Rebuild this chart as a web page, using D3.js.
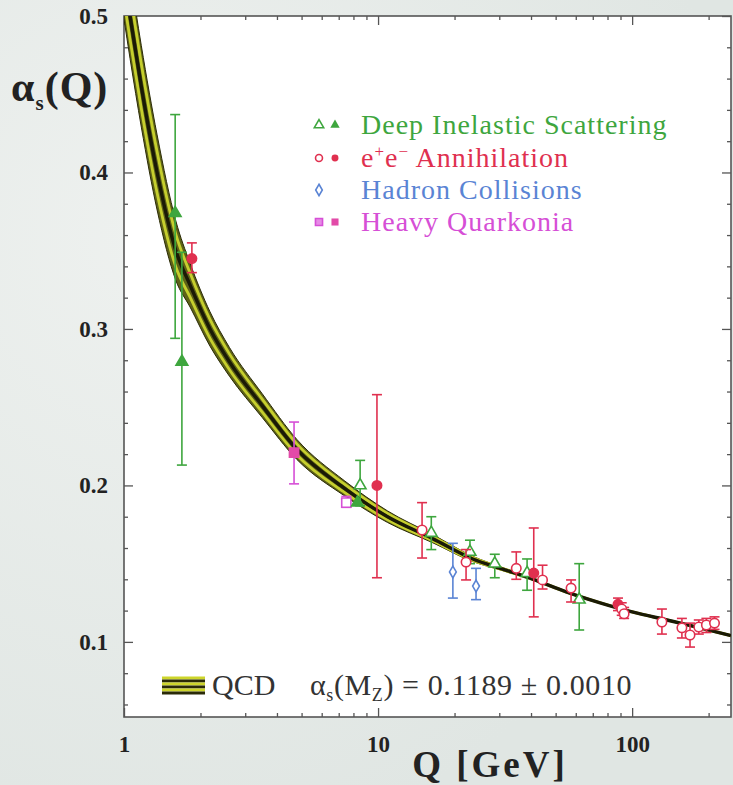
<!DOCTYPE html>
<html>
<head>
<meta charset="utf-8">
<script src="https://cdnjs.cloudflare.com/ajax/libs/d3/7.8.5/d3.min.js"></script>
<style>
    body { margin: 0; background: #e4e9e7; }
    svg text { font-family: "Liberation Serif", "Times New Roman", Times, Tinos, "DejaVu Serif", "Noto Serif", serif; }
</style>
</head>
<body>
<svg id="alphaRunning"></svg>
<script>
// QCD band: centre and half width (alpha units)
var qcdQ     = [1.0, 1.056, 1.17, 1.35, 1.6, 1.82, 2.18, 2.6, 3.5, 4.79, 7.4, 10.9, 16.4, 23.6, 30.3, 40.8, 55, 74.8, 101, 137, 185, 245];
var qcdAlpha = [0.525, 0.500, 0.455, 0.400, 0.350, 0.328, 0.300, 0.279, 0.251, 0.223, 0.198, 0.180, 0.166, 0.153, 0.147, 0.140, 0.132, 0.125, 0.119, 0.114, 0.109, 0.104];
var qcdHalf  = [0.027, 0.027, 0.026, 0.024, 0.019, 0.014, 0.011, 0.0092, 0.0076, 0.0064, 0.0048, 0.0037, 0.0026, 0.0017, 0.001, 0.0004, 0, 0, 0, 0, 0, 0];

// Deep Inelastic Scattering
var disQ      = [1.59, 1.69, 8.5, 8.3, 16.2, 23.0, 28.8, 38.6, 61.9];
var disAlpha  = [0.374, 0.279, 0.200, 0.189, 0.1696, 0.1575, 0.150, 0.144, 0.127];
var disLo     = [0.294, 0.213, 0.187, 0.189, 0.159, 0.150, 0.141, 0.133, 0.1076];
var disHi     = [0.437, 0.349, 0.216, 0.189, 0.180, 0.165, 0.156, 0.153, 0.150];
var disFilled = [true, true, false, true, false, false, false, false, false];

// e+e- Annihilation
var eeQ      = [1.85, 9.9, 14.9, 22.2, 35, 41, 44.4, 57.5, 88, 91, 93, 131, 157, 169, 183, 196, 211];
var eeAlpha  = [0.345, 0.200, 0.1715, 0.151, 0.147, 0.144, 0.1396, 0.1344, 0.124, 0.121, 0.118, 0.1127, 0.109, 0.1044, 0.1095, 0.1108, 0.112];
var eeLo     = [0.336, 0.141, 0.1536, 0.1396, 0.140, 0.116, 0.1338, 0.1255, 0.120, 0.117, 0.115, 0.105, 0.1025, 0.0967, 0.105, 0.106, 0.108];
var eeHi     = [0.355, 0.258, 0.189, 0.159, 0.1575, 0.1728, 0.149, 0.1396, 0.128, 0.125, 0.122, 0.121, 0.115, 0.112, 0.114, 0.115, 0.116];
var eeFilled = [true, true, false, false, false, true, false, false, true, false, false, false, false, false, false, false, false];

// Hadron Collisions
var hadQ     = [19.7, 24.3];
var hadAlpha = [0.1447, 0.1357];
var hadLo    = [0.128, 0.127];
var hadHi    = [0.163, 0.147];

// Heavy Quarkonia
var hqQ      = [4.67, 7.5];
var hqAlpha  = [0.221, 0.189];
var hqLo     = [0.201, 0.186];
var hqHi     = [0.2405, 0.193];
var hqFilled = [true, false];

var xMajor = [1, 10, 100];
var xMinor = [2, 3, 4, 5, 6, 7, 8, 9, 20, 30, 40, 50, 60, 70, 80, 90, 200];
var yMajor = [0.1, 0.2, 0.3, 0.4, 0.5];
var yMinor = [0.06, 0.08, 0.12, 0.14, 0.16, 0.18, 0.22, 0.24, 0.26, 0.28, 0.32, 0.34, 0.36, 0.38, 0.42, 0.44, 0.46, 0.48];

var legendNames = ["Deep Inelastic Scattering", "Annihilation", "Hadron Collisions", "Heavy Quarkonia"];

var green = "#3ea63e", red = "#e0304f", blue = "#5a84d4", magenta = "#d64fd6", pink = "#e24aa8";
var serif = "'Liberation Serif', 'Times New Roman', Times, Tinos, 'DejaVu Serif', 'Noto Serif', serif";

drawChart();

function drawChart() {
    // set the dimensions and margins of the graph
    var margin = { top: 16, right: 2, bottom: 68, left: 124 },
        width = 733 - margin.left - margin.right,
        height = 785 - margin.top - margin.bottom;

    var root = d3.select("#alphaRunning")
        .attr("width", 733)
        .attr("height", 785)
        .style("font-family", serif);

    // soft background
    var defs = root.append("defs");
    var grad = defs.append("radialGradient").attr("id", "bgGrad")
        .attr("cx", "20%").attr("cy", "30%").attr("r", "80%");
    grad.append("stop").attr("offset", "0%").attr("stop-color", "#eef1ef");
    grad.append("stop").attr("offset", "100%").attr("stop-color", "#e0e6e3");
    root.append("rect").attr("width", 733).attr("height", 785).attr("fill", "url(#bgGrad)");

    defs.append("clipPath").attr("id", "plotClip")
        .append("rect").attr("width", width).attr("height", height);

    var svg = root.append("g")
        .attr("transform", "translate(" + margin.left + "," + margin.top + ")");

    // set the ranges
    var x = d3.scaleLog().domain([1, 245]).range([0, width]);
    var y = d3.scaleLinear().domain([0.052, 0.5]).range([height, 0]);

    svg.append("rect").attr("width", width).attr("height", height).attr("fill", "#fff");

    // ticks on all four sides, pointing inward
    function tickAxis(axis, values, size) {
        return axis.tickValues(values).tickSizeInner(size).tickSizeOuter(0).tickFormat("");
    }
    var axes = [
        [function () { return d3.axisBottom(x); }, "translate(0," + height + ")", xMajor, xMinor],
        [function () { return d3.axisTop(x); }, "translate(0,0)", xMajor, xMinor],
        [function () { return d3.axisLeft(y); }, "translate(0,0)", yMajor, yMinor],
        [function () { return d3.axisRight(y); }, "translate(" + width + ",0)", yMajor, yMinor]
    ];
    axes.forEach(function (a) {
        svg.append("g").attr("transform", a[1]).call(tickAxis(a[0](), a[2], -9));
        svg.append("g").attr("transform", a[1]).call(tickAxis(a[0](), a[3], -4));
    });
    svg.selectAll(".domain").remove();
    svg.selectAll(".tick line").attr("stroke", "#555").attr("stroke-width", 1.3);

    // tick labels
    svg.append("g")
        .attr("transform", "translate(0," + height + ")")
        .call(d3.axisBottom(x).tickValues(xMajor).tickSize(0).tickPadding(19).tickFormat(d3.format("d")))
        .call(function (g) { g.select(".domain").remove(); g.attr("font-family", null); })
        .selectAll("text")
        .attr("font-size", 23).attr("font-weight", "bold").attr("fill", "#222");

    svg.append("g")
        .call(d3.axisLeft(y).tickValues(yMajor).tickSize(0).tickPadding(16).tickFormat(d3.format(".1f")))
        .call(function (g) { g.select(".domain").remove(); g.attr("font-family", null); })
        .selectAll("text")
        .attr("font-size", 23).attr("font-weight", "bold").attr("fill", "#222");

    // frame
    svg.append("rect").attr("width", width).attr("height", height)
        .attr("fill", "none").attr("stroke", "#555").attr("stroke-width", 1.6);

    // QCD band
    var qcd = qcdQ.map(function (q, i) { return { q: q, a: qcdAlpha[i], h: qcdHalf[i] }; });
    var plot = svg.append("g").attr("clip-path", "url(#plotClip)");

    var band = d3.area()
        .curve(d3.curveMonotoneX)
        .x(function (d) { return x(d.q); })
        .y0(function (d) { return y(d.a - d.h); })
        .y1(function (d) { return y(d.a + d.h); });
    plot.append("path").attr("d", band(qcd))
        .attr("fill", "#5e6218").attr("stroke", "#2a2a06").attr("stroke-width", 1);

    function offsetLine(k) {
        return d3.line()
            .curve(d3.curveMonotoneX)
            .x(function (d) { return x(d.q); })
            .y(function (d) { return y(d.a + k * d.h); });
    }
    [-0.55, 0.55].forEach(function (k) {
        plot.append("path").attr("d", offsetLine(k)(qcd))
            .attr("fill", "none").attr("stroke", "#c6cf2e").attr("stroke-width", 2.8);
    });
    plot.append("path").attr("d", offsetLine(0)(qcd))
        .attr("fill", "none").attr("stroke", "#1a1a06").attr("stroke-width", 3.4);

    // data points with error bars
    function drawSeries(qs, as, los, his, fills, color, shape, size, fillColor) {
        var pts = qs.map(function (q, i) {
            return { q: q, a: as[i], lo: los[i], hi: his[i], f: fills[i] };
        });
        var g = plot.append("g");
        pts.forEach(function (d) {
            if (d.hi - d.lo > 0.001) {
                var px = x(d.q);
                g.append("line").attr("x1", px).attr("x2", px)
                    .attr("y1", y(d.lo)).attr("y2", y(d.hi))
                    .attr("stroke", color).attr("stroke-width", 1.6);
                [d.lo, d.hi].forEach(function (v) {
                    g.append("line").attr("x1", px - 5).attr("x2", px + 5)
                        .attr("y1", y(v)).attr("y2", y(v))
                        .attr("stroke", color).attr("stroke-width", 1.6);
                });
            }
        });
        g.selectAll("path.pt").data(pts).enter().append("path")
            .attr("class", "pt")
            .attr("transform", function (d) { return "translate(" + x(d.q) + "," + y(d.a) + ")"; })
            .attr("d", d3.symbol().type(shape).size(size))
            .attr("fill", function (d) { return d.f ? (fillColor || color) : "#fff"; })
            .attr("stroke", function (d) { return d.f ? (fillColor || color) : color; })
            .attr("stroke-width", 1.6);
    }

    drawSeries(hqQ, hqAlpha, hqLo, hqHi, hqFilled, magenta, d3.symbolSquare, 85, pink);
    drawSeries(disQ, disAlpha, disLo, disHi, disFilled, green, d3.symbolTriangle, 60);
    drawSeries(eeQ, eeAlpha, eeLo, eeHi, eeFilled, red, d3.symbolCircle, 70);
    drawSeries(hadQ, hadAlpha, hadLo, hadHi, [false, false], blue, d3.symbolDiamond, 40);

    // legend
    var lg = root.append("g");
    var legendY = [125, 158, 190, 222];
    var legendColors = [green, red, blue, magenta];
    var legendShapes = [d3.symbolTriangle, d3.symbolCircle, d3.symbolDiamond, d3.symbolSquare];
    legendNames.forEach(function (name, i) {
        var sym = d3.symbol().type(legendShapes[i]).size(i === 3 ? 50 : 38);
        lg.append("path").attr("transform", "translate(319," + legendY[i] + ")")
            .attr("d", sym).attr("fill", i === 3 ? "#e68ae6" : "#fff")
            .attr("stroke", legendColors[i]).attr("stroke-width", 1.6);
        if (i !== 2) {
            lg.append("path").attr("transform", "translate(335," + legendY[i] + ")")
                .attr("d", sym).attr("fill", i === 3 ? pink : legendColors[i])
                .attr("stroke", "none");
        }
        var t = lg.append("text").attr("x", 361).attr("y", legendY[i] + 9)
            .attr("font-size", 28).attr("letter-spacing", 1).attr("fill", legendColors[i]);
        if (i === 1) {
            t.append("tspan").text("e");
            t.append("tspan").attr("dy", -10).attr("font-size", 17).text("+");
            t.append("tspan").attr("dy", 10).text("e");
            t.append("tspan").attr("dy", -10).attr("font-size", 17).text("\u2212");
            t.append("tspan").attr("dy", 10).text(" " + name);
        } else {
            t.text(name);
        }
    });

    // QCD legend
    var qg = root.append("g");
    var stripeY = [678, 681, 684, 687, 690, 693];
    stripeY.forEach(function (sy, i) {
        qg.append("line").attr("x1", 162).attr("x2", 205)
            .attr("y1", sy).attr("y2", sy)
            .attr("stroke", i % 2 === 0 ? "#cdd52c" : "#2a2a08").attr("stroke-width", 3);
    });
    qg.append("text").attr("x", 212).attr("y", 695)
        .attr("font-size", 30).attr("fill", "#333").text("QCD");
    var qt = qg.append("text").attr("x", 310).attr("y", 695)
        .attr("font-size", 30).attr("letter-spacing", 0.6).attr("fill", "#333");
    qt.append("tspan").text("\u03b1");
    qt.append("tspan").attr("dy", 6).attr("font-size", 18).text("s");
    qt.append("tspan").attr("dy", -6).text("(M");
    qt.append("tspan").attr("dy", 6).attr("font-size", 18).text("Z");
    qt.append("tspan").attr("dy", -6).text(") = 0.1189 \u00b1 0.0010");

    // axis titles
    root.append("text").attr("x", 490).attr("y", 777)
        .attr("text-anchor", "middle").attr("font-size", 37).attr("font-weight", "bold")
        .attr("letter-spacing", 3).attr("fill", "#222").text("Q [GeV]");

    var yt = root.append("text").attr("x", 11).attr("y", 101)
        .attr("font-size", 42).attr("font-weight", "bold").attr("letter-spacing", 1).attr("fill", "#222");
    yt.append("tspan").text("\u03b1");
    yt.append("tspan").attr("dy", 9).attr("font-size", 21).text("s");
    yt.append("tspan").attr("dy", -9).text("(Q)");
}
</script>
</body>
</html>
